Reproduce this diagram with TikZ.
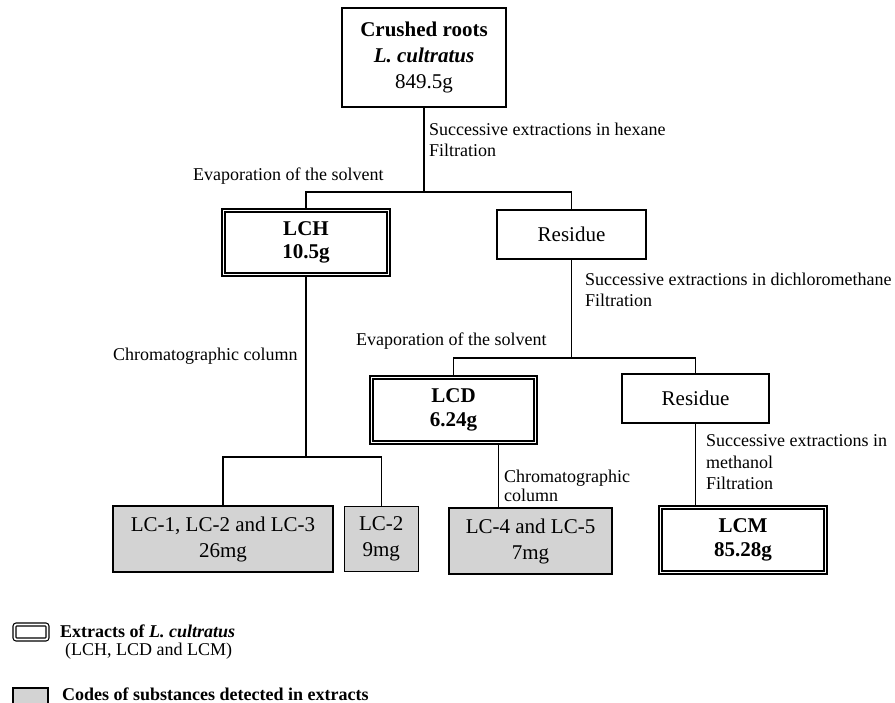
\documentclass[tikz,border=0pt]{standalone}
\usepackage{fontspec}
\setmainfont{Liberation Serif}
\usepackage{tikz}
\usetikzlibrary{positioning}
\usepackage{xcolor}
\definecolor{codegray}{HTML}{D3D3D3}
\newcommand{\boxfont}{\fontsize{21}{26}\selectfont}
\newcommand{\extfont}{\fontsize{21}{23.5}\selectfont\bfseries}
\newcommand{\notefont}{\fontsize{18}{21.5}\selectfont}
\newcommand{\keyfont}{\fontsize{18}{18}\selectfont}

\begin{document}
\begin{tikzpicture}[x=1pt, y=-1pt,
  plainbox/.style={draw, line width=1.3pt, fill=white, align=center,
    inner sep=0pt, font=\boxfont},
  extract/.style={plainbox, double, double distance=1.8pt, line width=1.2pt,
    font=\extfont},
  codebox/.style={plainbox, fill=codegray},
  link/.style={line width=1.1pt},
  note/.style={anchor=north west, inner sep=0pt, align=left, font=\notefont},
  keynote/.style={note, font=\keyfont}]
\useasboundingbox (0,0) rectangle (895,703);
\node (roots) [plainbox, minimum width=164pt, minimum height=99pt] at (424,57.5)
  {\textbf{Crushed roots}\\\textbf{\textit{L. cultratus}}\\849.5g};
\node (lch) [extract, minimum width=165pt, minimum height=64pt] at (306,242.5)
  {LCH\\10.5g};
\node (res1) [plainbox, minimum width=149pt, minimum height=49pt] at (571.5,234.5)
  {Residue};
\node (lcd) [extract, minimum width=164pt, minimum height=65pt] at (453.5,410)
  {LCD\\6.24g};
\node (res2) [plainbox, minimum width=147pt, minimum height=49pt] at (695.5,398.5)
  {Residue};
\node (lcm) [extract, minimum width=165pt, minimum height=65pt] at (743,540)
  {LCM\\85.28g};
\node (lc123) [codebox, minimum width=220pt, minimum height=66pt] at (223,539)
  {LC-1, LC-2 and LC-3\\26mg};
\node (lc2) [codebox, minimum width=74pt, minimum height=65pt, right=10pt of lc123]
  {LC-2\\9mg};
\node (lc45) [codebox, minimum width=163pt, minimum height=66pt] at (530.5,541)
  {LC-4 and LC-5\\7mg};

\coordinate (split1) at (424,192);
\coordinate (split2) at (571.5,358);
\coordinate (split3) at (306,457);
\draw[link] (roots) -- (split1);
\draw[link] (lch) |- (split1) -| (res1);
\draw[link] (res1) -- (split2);
\draw[link] (lcd) |- (split2) -| (res2);
\draw[link] (lch) -- (split3);
\draw[link] (lc123) |- (split3) -| (lc2);
\draw[link] ([xshift=45pt]lcd.south) -- ([xshift=45pt]lcd.south |- lc45.north);
\draw[link] (res2) -- (res2 |- lcm.north);

\node (hexane) [note] at (429,122.7)
  {Successive extractions in hexane\\Filtration};
\node (evap1) [note] at (193,167.7) {Evaporation of the solvent};
\node (dichloro) [note] at (585,272.7)
  {Successive extractions in dichloromethane\\Filtration};
\node (evap2) [note] at (356,332.7) {Evaporation of the solvent};
\node (chromH) [note] at (113,347.7) {Chromatographic column};
\node (chromD) [note, font=\fontsize{18}{19}\selectfont] at (504,469.7)
  {Chromatographic\\column};
\node (methanol) [note] at (706,434.7)
  {Successive extractions in\\methanol\\Filtration};

\node (keyext) [extract, minimum width=33pt, minimum height=15pt,
  rounded corners=2pt] at (31,632) {};
\node (keyexttext) [keynote] at (60,624.5)
  {\textbf{Extracts of \textit{L. cultratus}}\\\hspace*{5pt}(LCH, LCD and LCM)};
\node (keycode) [codebox, minimum width=35pt, minimum height=22pt] at (30.5,699) {};
\node (keycodetext) [keynote] at (62,687.5)
  {\textbf{Codes of substances detected in extracts}};
\end{tikzpicture}
\end{document}
